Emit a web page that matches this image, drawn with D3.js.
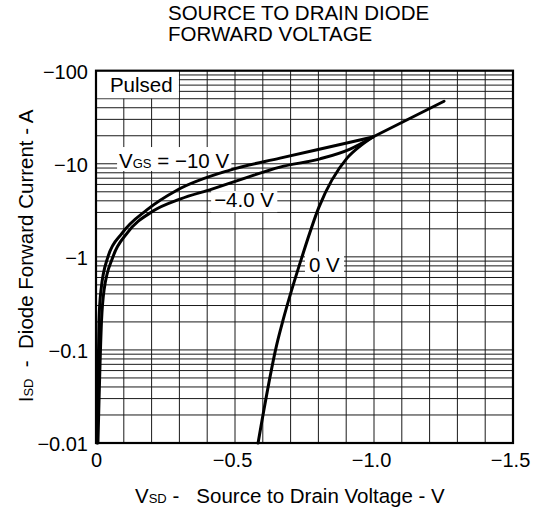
<!DOCTYPE html>
<html>
<head>
<meta charset="utf-8">
<script src="https://cdn.jsdelivr.net/npm/d3@7"></script>
<style>
  body { margin: 0; background: #fff; }
  text { font-family: "Liberation Sans", Arial, Helvetica, sans-serif; fill: #000; }
</style>
</head>
<body>
<div id="chart"></div>
<script>
// tick values / labels
const vTicks = [0, -0.5, -1.0, -1.5];
const vTickLabels = ["0", "\u22120.5", "\u22121.0", "\u22121.5"];
const iTicks = [-100, -10, -1, -0.1, -0.01];
const iTickLabels = ["\u2212100", "\u221210", "\u22121", "\u22120.1", "\u22120.01"];

// VGS = -10 V (up to the point where all curves meet)
const vsd10 = [-0.0036, -0.0108, -0.018, -0.043, -0.094, -0.183, -0.291, -0.482, -0.662, -0.914, -0.996];
const isd10 = [-0.01, -0.208, -0.44, -1.0, -1.8, -3.2, -5.2, -8.56, -11.5, -17, -19.4];
// VGS = -4.0 V
const vsd4 = [-0.007, -0.020, -0.029, -0.061, -0.112, -0.205, -0.302, -0.417, -0.536, -0.662, -0.806, -0.914, -0.996];
const isd4 = [-0.01, -0.21, -0.44, -1.0, -1.8, -3.1, -4.17, -5.35, -7.02, -9.21, -11.3, -14.4, -19.4];
// VGS = 0 V
const vsd0 = [-0.583, -0.651, -0.673, -0.741, -0.802, -0.903, -0.95, -0.996];
const isd0 = [-0.01, -0.117, -0.21, -1.0, -3.42, -11.5, -15.5, -19.4];
// shared high-current tail
const vsdTail = [-0.996, -1.252];
const isdTail = [-19.4, -47];

let width = 536, height = 514;
let plot = { left: 96, right: 513, top: 70.7, bottom: 443 }; //px

let svg = d3.select("#chart")
    .append("svg")
    .attr("width", width)
    .attr("height", height);

let x = d3.scaleLinear()
    .domain([0, -1.5])
    .range([plot.left, plot.right]);

let y = d3.scaleLog()
    .domain([-0.01, -100])
    .range([plot.bottom, plot.top]);

/*---------------
 // grid
 ----------------*/
let vGrid = d3.range(1, 15).map(i => -i / 10);
let iGrid = [];
[-0.01, -0.1, -1, -10].forEach(dec => {
    for (let k = 1; k <= 9; k++) iGrid.push(dec * k);
});
iGrid.shift();

let grid = svg.append("g").attr("stroke", "#1a1a1a").attr("stroke-width", 1);

grid.selectAll(".vg")
    .data(vGrid)
    .enter().append("line")
    .attr("x1", d => x(d)).attr("x2", d => x(d))
    .attr("y1", plot.top).attr("y2", plot.bottom);

grid.selectAll(".hg")
    .data(iGrid)
    .enter().append("line")
    .attr("x1", plot.left).attr("x2", plot.right)
    .attr("y1", d => y(d)).attr("y2", d => y(d));

// "Pulsed" box hides grid in the top-left corner
svg.append("rect")
    .attr("x", plot.left)
    .attr("y", plot.top)
    .attr("width", x(-0.3) - plot.left - 0.5)
    .attr("height", y(-50) - plot.top - 0.5)
    .attr("fill", "#fff");

svg.append("text")
    .attr("x", x(-0.05))
    .attr("y", y(-59))
    .attr("font-size", "20.5px")
    .text("Pulsed");

/*---------------
 // curve labels: white backing first, text on top later
 ----------------*/
let labelLayer = svg.append("g");
let curveLayer = svg.append("g");
let textLayer = svg.append("g");

// pad = [horizontal, above baseline, below baseline]
function label(vx, iy, parts, pad) {
    let bg = labelLayer.append("rect").attr("fill", "#fff");
    let t = textLayer.append("text")
        .attr("x", x(vx))
        .attr("y", y(iy))
        .attr("font-size", "20.5px");
    parts.forEach(p => {
        t.append("tspan")
            .attr("font-size", p.small ? "13px" : null)
            .text(p.t);
    });
    let b = t.node().getBBox();
    bg.attr("x", b.x - pad[0])
        .attr("y", y(iy) - pad[1])
        .attr("width", b.width + 2 * pad[0])
        .attr("height", pad[1] + pad[2]);
}

label(-0.083, -9.0, [{ t: "V" }, { t: "GS", small: true }, { t: "\u00a0=\u00a0\u221210\u00a0V" }], [2, 21, 3]);
label(-0.425, -3.42, [{ t: "\u22124.0\u00a0V" }], [3, 16, 5]);
label(-0.766, -0.68, [{ t: "0\u00a0V" }], [4, 21, 2]);

/*---------------
 // curves
 ----------------*/
let line = d3.line()
    .x(d => x(d[0]))
    .y(d => y(d[1]))
    .curve(d3.curveMonotoneX);

[[vsd10, isd10], [vsd4, isd4], [vsd0, isd0], [vsdTail, isdTail]].forEach(s => {
    curveLayer.append("path")
        .datum(d3.zip(s[0], s[1]))
        .attr("fill", "none")
        .attr("stroke", "#000")
        .attr("stroke-width", 3)
        .attr("stroke-linejoin", "round")
        .attr("stroke-linecap", "round")
        .attr("d", line);
});

/*---------------
 // frame
 ----------------*/
svg.append("rect")
    .attr("x", plot.left)
    .attr("y", plot.top)
    .attr("width", plot.right - plot.left)
    .attr("height", plot.bottom - plot.top)
    .attr("fill", "none")
    .attr("stroke", "#000")
    .attr("stroke-width", 2.2);

/*---------------
 // axes
 ----------------*/
let xAxis = d3.axisBottom(x)
    .tickValues(vTicks)
    .tickSize(0)
    .tickPadding(0)
    .tickFormat((d, i) => vTickLabels[i]);

let gx = svg.append("g")
    .attr("transform", "translate(0," + plot.bottom + ")")
    .call(xAxis);
gx.select(".domain").remove();
gx.selectAll("text")
    .attr("font-size", "20px")
    .attr("font-family", null)
    .attr("y", 0)
    .attr("dy", "24px")
    .attr("dx", d => d == 0 ? 0 : -3);

let yAxis = d3.axisLeft(y)
    .tickValues(iTicks)
    .tickSize(0)
    .tickPadding(8)
    .tickFormat((d, i) => iTickLabels[i]);

let gy = svg.append("g")
    .attr("transform", "translate(" + plot.left + ",0)")
    .call(yAxis);
gy.select(".domain").remove();
gy.selectAll("text")
    .attr("font-size", "20px")
    .attr("font-family", null)
    .attr("dy", "0.38em");

// axis titles
let xt = svg.append("text")
    .attr("x", 135)
    .attr("y", 503)
    .attr("font-size", "20.5px");
xt.append("tspan").text("V");
xt.append("tspan").attr("font-size", "13px").text("SD");
xt.append("tspan").text("\u00a0-\u00a0\u00a0\u00a0Source to Drain Voltage - V");

let yt = svg.append("text")
    .attr("transform", "translate(33," + 256 + ") rotate(-90)")
    .attr("text-anchor", "middle")
    .attr("font-size", "20.5px");
yt.append("tspan").text("I");
yt.append("tspan").attr("font-size", "13px").text("SD");
yt.append("tspan").text("\u00a0\u00a0-\u00a0\u00a0Diode Forward Current - A");

// title
let title = svg.append("text")
    .attr("x", 168)
    .attr("font-size", "20.5px");
title.append("tspan").attr("x", 168).attr("y", 20).text("SOURCE TO DRAIN DIODE");
title.append("tspan").attr("x", 168).attr("y", 41).text("FORWARD VOLTAGE");
</script>
</body>
</html>
